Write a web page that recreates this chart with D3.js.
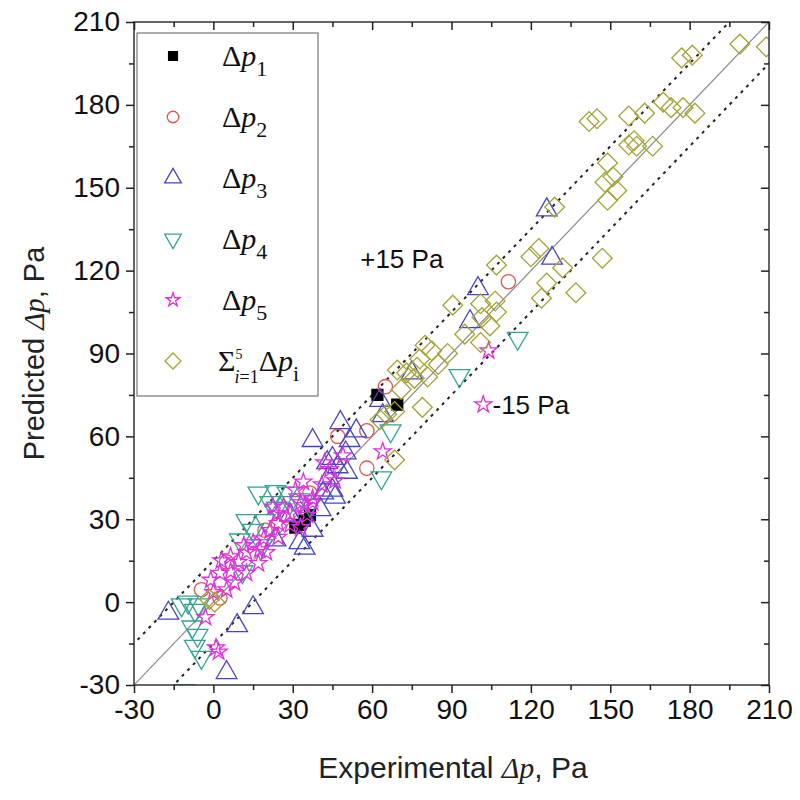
<!DOCTYPE html>
<html>
<head>
<meta charset="utf-8">
<style>
body { margin: 0; background: #fff; }
svg { display: block; }
.tick text { font-family: Arial, "Liberation Sans", sans-serif; fill: #111; }
</style>
</head>
<body>
<div id="chart"></div>
<script src="https://cdn.jsdelivr.net/npm/d3@7/dist/d3.min.js"></script>
<script>
// axis ticks (same on both axes)
var tickValues = [-30, 0, 30, 60, 90, 120, 150, 180, 210];
var minorValues = [-15, 15, 45, 75, 105, 135, 165, 195];
var bandOffsets = [15, -15];

// [experimental, predicted] in Pa
var dp1 = [[69.5, 71.5], [62, 75], [34.5, 29.5], [36.5, 31.5], [32.5, 28], [31, 27]];
var dp2 = [[111.5, 116], [65, 78], [58, 62], [58, 48.5], [47, 60], [36.5, 39.5], [5, 14.5],
  [-4.5, 4.5], [19.5, 26], [2.5, 1.5]];
var dp3 = [[126, 142], [128, 124.5], [100, 113.5], [97, 101.5], [75, 83], [63, 73], [64, 67.5],
  [37.5, 58.5], [48, 65], [45, 52], [50, 54], [47, 49], [50.5, 47], [43.5, 45], [46, 38],
  [41.5, 39.5], [43, 50.5], [45, 40.5], [37.5, 26], [32.5, 21.5], [34.5, 19.5], [15, -2],
  [9, -8.5], [5, -25.5], [-17, -4], [40.5, 33.5], [29, 31.5], [23.5, 22.5], [51.5, 58.5], [54, 62]];
var dp4 = [[115, 95.5], [93, 82], [63.5, 45], [67, 62], [17, 39.5], [23.5, 40], [28, 39.5],
  [21.5, 36], [29, 36], [19.5, 29.5], [15, 26], [24, 34], [11, 11], [-9.5, 0], [-7, -3],
  [-8, -9], [-6, -12], [-7, -16], [-4.5, -20], [-11, -32], [-12, -1], [-5.5, -1], [12.5, 29.5],
  [10, 22.5], [18.5, 20.5], [32.5, 37], [36.5, 35]];
var dp5 = [[102, 71.5], [104, 91], [64, 54.5], [49, 53], [34, 43.5], [31, 40.5], [37.5, 37.5],
  [34.5, 35], [26.5, 34.5], [24, 32], [29, 32], [41, 42.5], [37.5, 36], [33, 36], [22.5, 34.5],
  [24.5, 28.5], [29, 28], [21.5, 26], [19, 23], [24.5, 23.5], [15, 21.5], [20, 18], [12.5, 18],
  [17, 14], [9.5, 14.5], [12.5, 10.5], [6.5, 11], [2.5, 10.5], [-1, 8], [8, 7], [33, 27],
  [35.5, 31.5], [-3, -5.5], [1, -16.5], [2, -18], [6.5, 16.5], [3, 15], [44, 48], [46, 44],
  [42, 50.5], [17.5, 19], [11.5, 20.5], [5, 4.5], [0, 3.5]];
var dpSum = [[209, 201], [199, 202], [177, 197], [181, 198], [142, 174], [145, 175], [157, 176],
  [163, 177], [170, 181], [173, 179], [177.5, 179], [182, 177], [157, 165.5], [159, 167],
  [160, 165], [166, 165], [149, 159], [148, 152], [151, 154], [152.5, 149], [149, 145.5],
  [129, 143], [120, 125], [123, 128], [147, 124.5], [132, 121], [126, 115.5], [137, 112],
  [124, 110], [107, 122], [101, 108], [106.5, 109], [90.5, 107.5], [107, 105], [104.5, 100],
  [101.5, 103], [95, 97], [101, 94], [88.5, 90], [85, 86], [80, 93], [82.5, 91], [78, 88],
  [77, 85], [73, 83], [69.5, 84], [76, 81], [81, 81.5], [71, 77], [79, 70.5], [68.5, 69],
  [65.5, 68], [63, 66], [68.5, 51.5], [-1.5, 1], [0.5, 0]];

var svg_dx = 800, svg_dy = 800;
var x = d3.scaleLinear().domain([-30, 210]).range([134, 769]);
var y = d3.scaleLinear().domain([-30, 210]).range([685, 22]);
var fmt = function(d) { return String(d); };   // plain hyphen for negatives

var svg = d3.select("#chart").append("svg")
    .attr("width", svg_dx)
    .attr("height", svg_dy);

svg.append("defs").append("clipPath")
    .attr("id", "clip")
  .append("rect")
    .attr("x", x(-30)).attr("y", y(210))
    .attr("width", x(210) - x(-30))
    .attr("height", y(-30) - y(210));

var plot = svg.append("g").attr("clip-path", "url(#clip)");

// y = x and the +/-15 Pa band
var diag = d3.line()
    .x(function(d) { return x(d[0]); })
    .y(function(d) { return y(d[1]); });

plot.append("path")
    .attr("d", diag([[-30, -30], [210, 210]]))
    .attr("stroke", "#8a8a8a").attr("stroke-width", 1.2).attr("fill", "none");

bandOffsets.forEach(function(o) {
  plot.append("path")
      .attr("d", diag([[-60, -60 + o], [240, 240 + o]]))
      .attr("stroke", "#222").attr("stroke-width", 2)
      .attr("stroke-dasharray", "3,5").attr("fill", "none");
});

// series styling
var series = [
  { data: dp1, color: "#000", fill: "#000", type: d3.symbolSquare, size: 120, rot: 0 },
  { data: dp2, color: "#e2564f", fill: "none", type: d3.symbolCircle, size: 160, rot: 0 },
  { data: dp3, color: "#4646c4", fill: "none", type: d3.symbolTriangle, size: 185, rot: 0 },
  { data: dp4, color: "#35a394", fill: "none", type: d3.symbolTriangle, size: 185, rot: 180 },
  { data: dp5, color: "#e02ee0", fill: "none", type: d3.symbolStar, size: 90, rot: 0 },
  { data: dpSum, color: "#a3a336", fill: "none", type: d3.symbolSquare, size: 195, rot: 45 }
];

series.forEach(function(s) {
  var sym = d3.symbol().type(s.type).size(s.size);
  plot.append("g").selectAll("path")
      .data(s.data)
    .enter().append("path")
      .attr("d", sym)
      .attr("transform", function(d) {
        return "translate(" + x(d[0]) + "," + y(d[1]) + ") rotate(" + s.rot + ")";
      })
      .attr("fill", s.fill)
      .attr("stroke", s.color)
      .attr("stroke-width", 1.3);
});

// frame
svg.append("rect")
    .attr("x", x(-30)).attr("y", y(210))
    .attr("width", x(210) - x(-30))
    .attr("height", y(-30) - y(210))
    .attr("fill", "none").attr("stroke", "#333").attr("stroke-width", 1.5);

// axes
function styleAxis(g) {
  g.select(".domain").remove();
  g.selectAll(".tick line").attr("stroke", "#222").attr("stroke-width", 1.5);
}

svg.append("g")
    .attr("transform", "translate(0," + y(-30) + ")")
    .call(d3.axisBottom(x).tickValues(tickValues).tickSize(8).tickPadding(6).tickFormat(fmt))
    .call(styleAxis)
    .selectAll("text").style("font-size", "28px");
svg.append("g")
    .attr("transform", "translate(0," + y(-30) + ")")
    .call(d3.axisBottom(x).tickValues(minorValues).tickSize(5).tickFormat(""))
    .call(styleAxis);

svg.append("g")
    .attr("transform", "translate(" + x(-30) + ",0)")
    .call(d3.axisLeft(y).tickValues(tickValues).tickSize(8).tickPadding(6).tickFormat(fmt))
    .call(styleAxis)
    .selectAll("text").style("font-size", "28px");
svg.append("g")
    .attr("transform", "translate(" + x(-30) + ",0)")
    .call(d3.axisLeft(y).tickValues(minorValues).tickSize(5).tickFormat(""))
    .call(styleAxis);

// mirrored ticks inside on top and right
svg.append("g")
    .attr("transform", "translate(0," + y(210) + ")")
    .call(d3.axisTop(x).tickValues(tickValues).tickSize(-8).tickFormat(""))
    .call(styleAxis);
svg.append("g")
    .attr("transform", "translate(0," + y(210) + ")")
    .call(d3.axisTop(x).tickValues(minorValues).tickSize(-5).tickFormat(""))
    .call(styleAxis);
svg.append("g")
    .attr("transform", "translate(" + x(210) + ",0)")
    .call(d3.axisRight(y).tickValues(tickValues).tickSize(-8).tickFormat(""))
    .call(styleAxis);
svg.append("g")
    .attr("transform", "translate(" + x(210) + ",0)")
    .call(d3.axisRight(y).tickValues(minorValues).tickSize(-5).tickFormat(""))
    .call(styleAxis);

// axis titles
var xTitle = svg.append("text")
    .attr("x", 453).attr("y", 778)
    .attr("text-anchor", "middle")
    .style("font-family", "Arial, 'Liberation Sans', sans-serif")
    .style("font-size", "30px").attr("fill", "#222");
xTitle.append("tspan").text("Experimental ");
xTitle.append("tspan").style("font-family", "'Liberation Serif', 'Times New Roman', serif")
    .style("font-style", "italic").text("Δp");
xTitle.append("tspan").text(", Pa");

var yTitle = svg.append("text")
    .attr("transform", "translate(44," + ((y(-30) + y(210)) / 2) + ") rotate(-90)")
    .attr("text-anchor", "middle")
    .style("font-family", "Arial, 'Liberation Sans', sans-serif")
    .style("font-size", "29px").attr("fill", "#222");
yTitle.append("tspan").text("Predicted ");
yTitle.append("tspan").style("font-family", "'Liberation Serif', 'Times New Roman', serif")
    .style("font-style", "italic").text("Δp");
yTitle.append("tspan").text(", Pa");

// band labels
svg.append("text")
    .attr("x", x(55.5)).attr("y", y(121))
    .style("font-family", "Arial, 'Liberation Sans', sans-serif")
    .style("font-size", "26px").attr("fill", "#111")
    .text("+15 Pa");
svg.append("text")
    .attr("x", x(105.5)).attr("y", y(68))
    .style("font-family", "Arial, 'Liberation Sans', sans-serif")
    .style("font-size", "26px").attr("fill", "#111")
    .text("-15 Pa");

// legend
var legend = svg.append("g");
legend.append("rect")
    .attr("x", 137).attr("y", 33).attr("width", 181).attr("height", 363)
    .attr("fill", "#fff").attr("stroke", "#777").attr("stroke-width", 1.2);

var legendSubs = ["1", "2", "3", "4", "5", "i"];
series.forEach(function(s, i) {
  var ly = 56 + i * 61;
  var sym = d3.symbol().type(s.type).size(s.size * 0.65);
  legend.append("path")
      .attr("d", sym)
      .attr("transform", "translate(173," + ly + ") rotate(" + s.rot + ")")
      .attr("fill", s.fill).attr("stroke", s.color).attr("stroke-width", 1.3);

  var t = legend.append("text")
      .attr("x", 222).attr("y", ly + 10)
      .style("font-family", "'Liberation Serif', 'Times New Roman', serif")
      .style("font-size", "30px").attr("fill", "#111");
  if (i === 5) {
    t.attr("x", 218);
    t.append("tspan").text("Σ");
    t.append("tspan").attr("dy", -12).style("font-size", "14px").text("5");
    t.append("tspan").attr("dx", -8).attr("dy", 24).style("font-size", "18px").style("font-style", "italic").text("i");
    t.append("tspan").style("font-size", "18px").text("=1");
    t.append("tspan").attr("dy", -12).text("Δ");
    t.append("tspan").style("font-style", "italic").text("p");
    t.append("tspan").attr("dy", 10).style("font-size", "22px").text(legendSubs[i]);
  } else {
    t.append("tspan").text("Δ");
    t.append("tspan").style("font-style", "italic").text("p");
    t.append("tspan").attr("dy", 10).style("font-size", "22px").text(legendSubs[i]);
  }
});
</script>
</body>
</html>
